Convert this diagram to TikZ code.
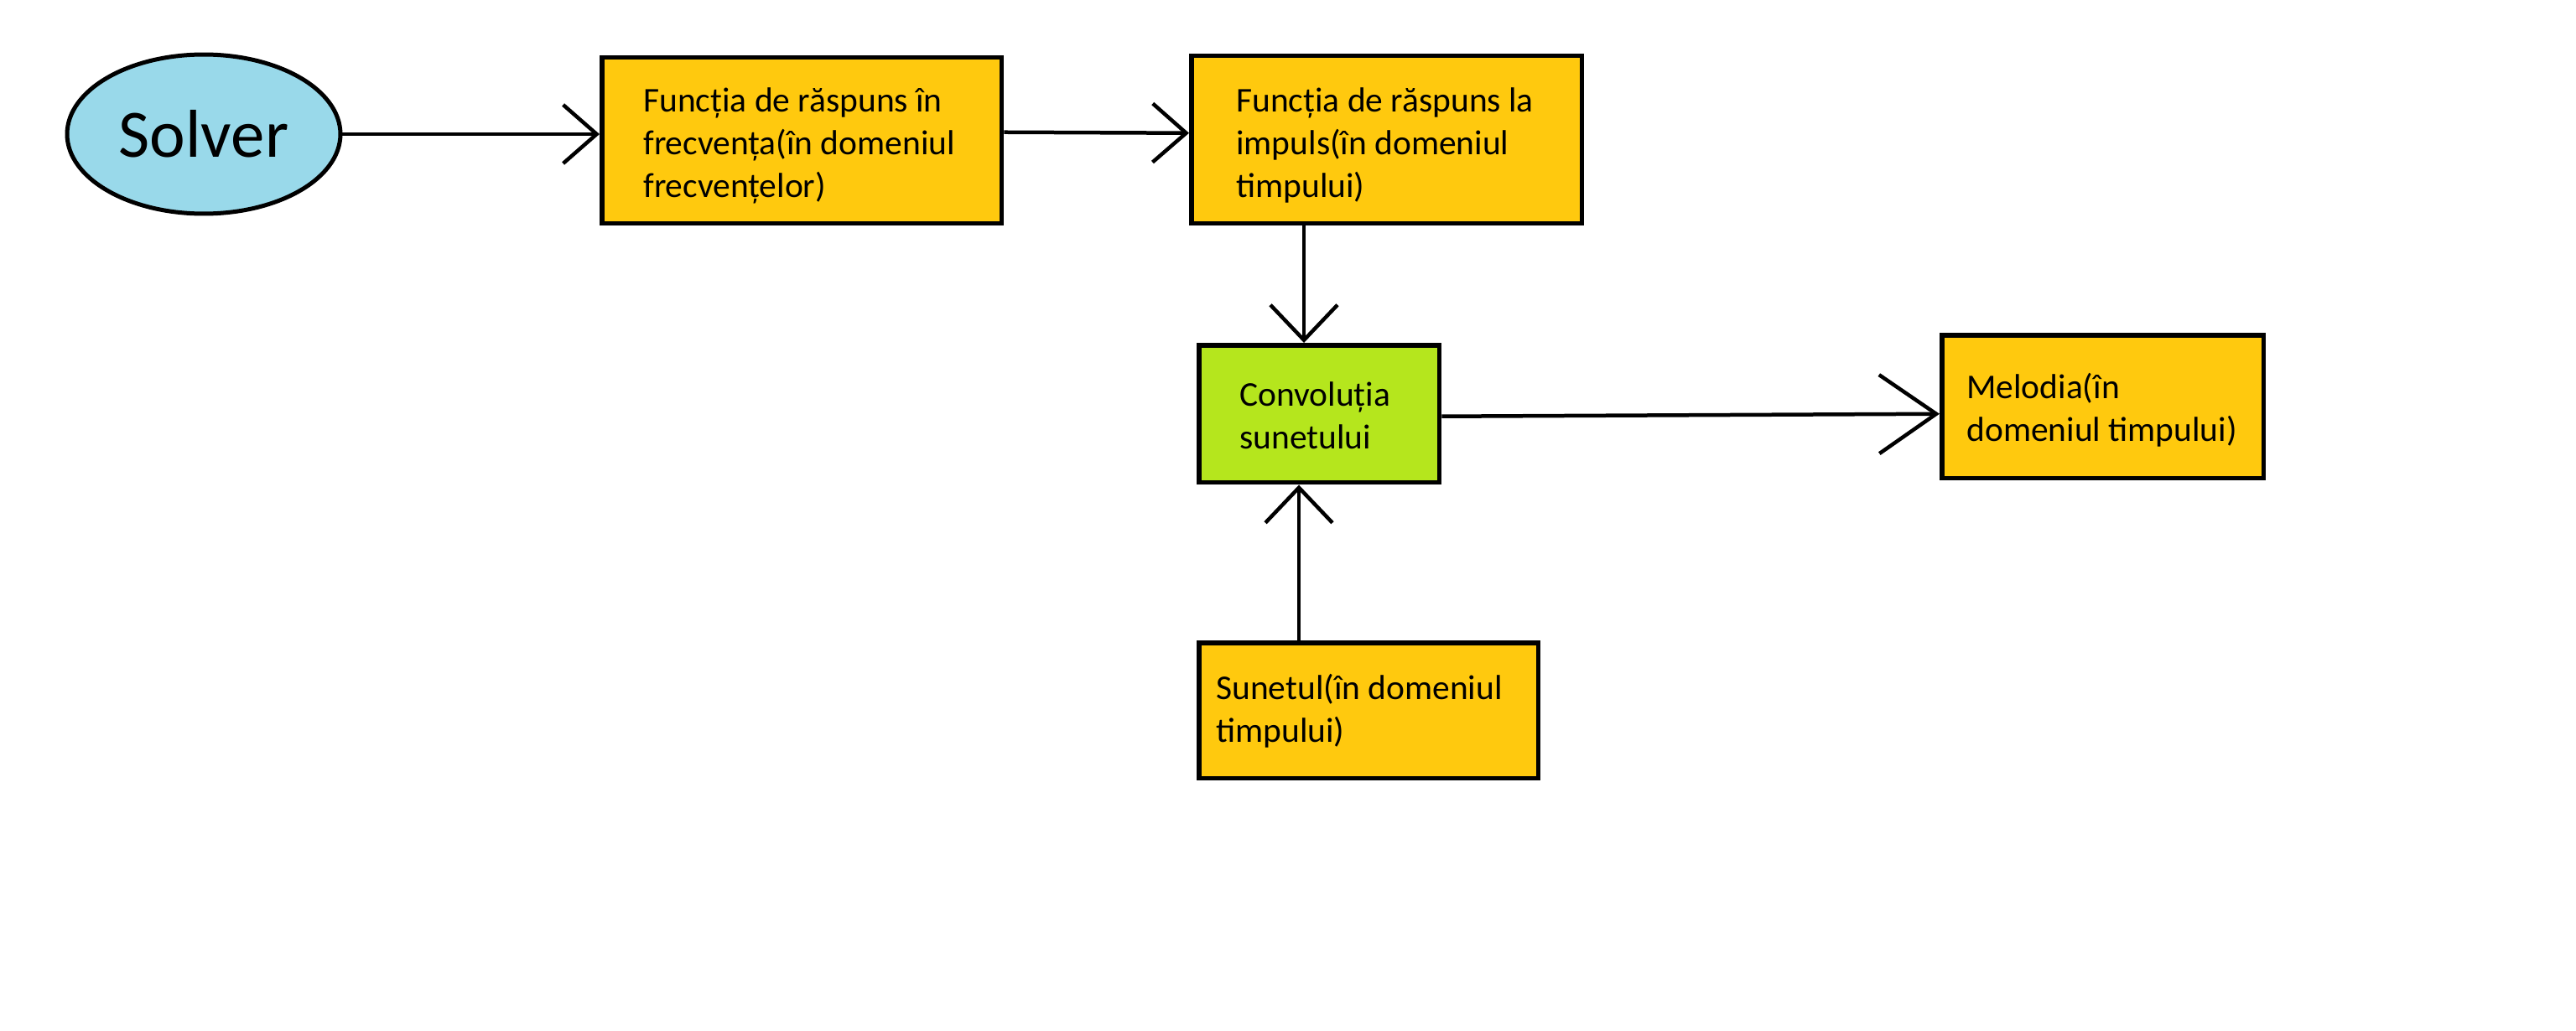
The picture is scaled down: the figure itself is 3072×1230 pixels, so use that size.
\documentclass[tikz,border=0pt]{standalone}
\usepackage{fontspec}
\setmainfont{Carlito}
\usetikzlibrary{shapes.geometric,arrows.meta,calc}
\definecolor{goldbox}{HTML}{FFC90E}
\definecolor{limebox}{HTML}{B5E61D}
\definecolor{turqfill}{HTML}{99D9EA}
\begin{document}
\begin{tikzpicture}[x=0.02cm,y=-0.02cm,
  box/.style={draw=black, line width=0.11cm, fill=goldbox, inner sep=0pt, anchor=north west},
  txt/.style={font=\fontsize{23.6pt}{29pt}\selectfont, align=left, anchor=base west, inner sep=0pt, text=black},
  conn/.style={draw=black, line width=0.09cm},
  tipsmall/.style={-{Straight Barb[length=0.8cm,width=1.4cm]}},
  tipvert/.style={-{Straight Barb[length=0.84cm,width=1.6cm]}},
  tipbig/.style={-{Straight Barb[length=1.36cm,width=1.88cm]}},
  ]
\useasboundingbox (0,0) rectangle (3072,1230);
\fill[white] (0,0) rectangle (3072,1230);

\node[ellipse, draw=black, line width=0.1cm, fill=turqfill, minimum width=6.52cm, minimum height=3.8cm, inner sep=0pt,
  font=\fontsize{46pt}{55pt}\selectfont] (solver) at (243,160) {Solver};

\node[box, minimum width=9.54cm, minimum height=3.96cm] (f1) at (715,66) {};
\node[box, minimum width=9.32cm, minimum height=4.0cm] (f2) at (1418,64) {};
\node[box, fill=limebox, minimum width=5.74cm, minimum height=3.28cm] (conv) at (1427,409) {};
\node[box, minimum width=7.68cm, minimum height=3.42cm] (mel) at (2313,397) {};
\node[box, minimum width=8.1cm, minimum height=3.24cm] (sun) at (1427,764) {};

% anchor base of a multi-line node is the baseline of its last line
\node[txt] (t1) at (767,235) {Funcția de răspuns în\\frecvența(în domeniul\\frecvențelor)};
\node[txt] (t2) at (1474,235) {Funcția de răspuns la\\impuls(în domeniul\\timpului)};
\node[txt] (t3) at (1478,535) {Convoluția\\sunetului};
\node[txt] (t4) at (2345,526) {Melodia(în\\domeniul timpului)};
\node[txt] (t5) at (1450,885) {Sunetul(în domeniul\\timpului)};

\draw[conn, tipsmall] (solver.east) -- (solver.east -| f1.west);
\draw[conn, tipsmall] ($(f1.east)+(0,-10)$) -- ($(f2.west)+(0,-8)$);
\draw[conn, tipvert] ($(f2.south west)+(137,0)$) -- ($(conv.north west)+(128,0)$);
\draw[conn, tipbig] ($(conv.east)+(0,3)$) -- ($(mel.west)+(0,8.5)$);
\draw[conn, tipvert] ($(sun.north west)+(122,0)$) -- ($(conv.south west)+(122,0)$);
\end{tikzpicture}
\end{document}
